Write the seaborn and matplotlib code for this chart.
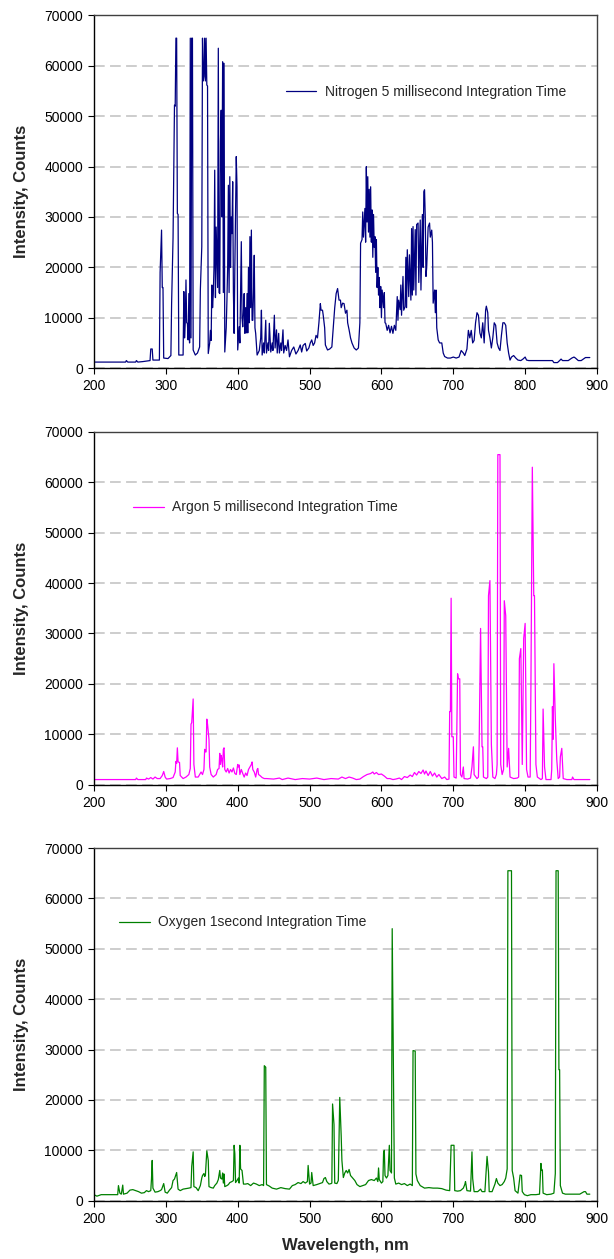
import matplotlib
matplotlib.use("Agg")
import matplotlib.pyplot as plt
import pandas as pd
import seaborn as sns

# wavelength (nm) / intensity (counts)
nitrogen_nm = [
    200, 244, 245, 247, 258, 259, 261, 268, 278, 279,
    281, 282, 291, 292, 294, 295, 296, 297, 303, 307,
    308, 310, 312, 313, 314, 315, 316, 317, 318, 324,
    325, 326, 327, 328, 329, 330, 331, 332, 333, 334,
    335, 336, 337, 338, 341, 344, 347, 348, 350, 351,
    352, 353, 354, 355, 356, 357, 358, 359, 361, 362,
    363, 364, 365, 366, 367, 368, 369, 370, 372, 373,
    374, 375, 376, 377, 378, 379, 380, 381, 382, 384,
    385, 386, 387, 388, 389, 390, 391, 392, 393, 394,
    395, 396, 398, 399, 400, 402, 403, 405, 406, 407,
    408, 409, 410, 411, 412, 413, 414, 415, 416, 417,
    418, 419, 420, 421, 422, 423, 424, 425, 427, 430,
    432, 433, 434, 436, 437, 439, 440, 442, 443, 444,
    446, 448, 449, 451, 452, 454, 455, 457, 458, 460,
    461, 463, 464, 466, 468, 470, 472, 475, 478, 481,
    484, 487, 489, 491, 494, 496, 499, 501, 503, 505,
    507, 509, 511, 513, 515, 516, 518, 519, 521, 522,
    525, 528, 531, 533, 535, 537, 539, 541, 543, 544,
    546, 548, 550, 552, 553, 555, 557, 559, 562, 565,
    568, 570, 571, 573, 574, 575, 577, 578, 579, 580,
    581, 582, 583, 584, 585, 586, 587, 588, 589, 590,
    591, 592, 593, 594, 595, 596, 597, 598, 599, 600,
    601, 603, 604, 605, 606, 608, 610, 612, 614, 616,
    618, 620, 622, 623, 624, 626, 627, 628, 630, 631,
    633, 634, 635, 636, 638, 639, 641, 642, 643, 644,
    645, 647, 648, 649, 651, 652, 654, 655, 657, 658,
    659, 660, 661, 662, 663, 665, 667, 668, 670, 671,
    672, 674, 675, 676, 677, 679, 681, 684, 686, 688,
    692, 696, 700, 704, 708, 711, 714, 716, 719, 721,
    723, 725, 727, 729, 731, 733, 735, 737, 739, 741,
    743, 745, 746, 748, 749, 751, 753, 755, 757, 759,
    761, 763, 765, 767, 769, 771, 773, 775, 777, 779,
    781, 784, 787, 790, 794, 797, 800, 802, 805, 810,
    820, 830, 838, 840, 845, 848, 850, 852, 860, 865,
    868, 870, 874, 878, 880, 884, 890,
]
nitrogen_counts = [
    1200, 1200, 1500, 1200, 1200, 1500, 1200, 1300, 1500, 3800,
    3800, 1600, 1600, 19000, 27400, 16000, 16000, 2000, 1900, 2500,
    12800, 25800, 52200, 52000, 65500, 65500, 30700, 30500, 2600, 2600,
    15200, 6000, 9000, 17500, 9000, 8900, 5600, 14800, 5000, 65500,
    6000, 65500, 65500, 3600, 2600, 3000, 4200, 15500, 24100, 65500,
    57000, 57900, 65500, 57000, 65500, 56200, 56000, 2900, 5000, 7500,
    5500, 16500, 12000, 14800, 20000, 39300, 14000, 28000, 16000, 63500,
    15000, 14800, 45000, 51200, 30000, 60800, 15000, 60500, 3200, 8000,
    13500, 20000, 36300, 15000, 38000, 20000, 30000, 26700, 37000, 15000,
    6900, 20000, 42000, 36000, 3600, 8200, 5000, 25100, 10000, 8200,
    11000, 14800, 6900, 12000, 7000, 14800, 7000, 20000, 9000, 26100,
    12000, 27400, 9500, 9500, 15000, 22400, 8000, 6900, 2600, 3500,
    6000, 11500, 2600, 5000, 3000, 9500, 3000, 5000, 3500, 8900,
    3200, 5000, 3500, 10500, 4000, 7600, 3000, 6900, 3000, 5000,
    3500, 7600, 3000, 4500, 3500, 5600, 2250, 3500, 4200, 2800,
    3500, 4600, 3200, 4500, 4900, 3400, 4000, 5000, 5600, 4500,
    5000, 6500, 6000, 9000, 12800, 11500, 11500, 10500, 8000, 4600,
    3600, 3800, 4200, 8000, 12000, 14800, 15800, 13500, 13500, 12000,
    12900, 12800, 10900, 11500, 9000, 7600, 6000, 5000, 4000, 3600,
    4000, 9000, 24800, 25500, 31000, 26000, 31700, 25000, 40000, 29000,
    38000, 27000, 35500, 26000, 36000, 25000, 31400, 22000, 30500, 24000,
    26100, 19000, 25500, 16000, 20000, 14500, 18000, 12000, 16200, 10000,
    15500, 12000, 15000, 9000, 8900, 7500, 8500, 7000, 8300, 6900,
    8500, 7500, 14200, 9500, 13500, 11600, 16500, 10500, 18200, 11500,
    12200, 22000, 12000, 23500, 14200, 22500, 13500, 27700, 14500, 28100,
    15500, 27500, 14500, 28500, 28800, 17000, 29400, 15500, 30500, 20000,
    35000, 35400, 30000, 18200, 20000, 28000, 28800, 26000, 27400, 25000,
    12900, 15500, 11000, 15500, 8000, 5600, 5000, 5000, 3000, 2300,
    2000, 2000, 2200, 2000, 2200, 3500, 3000, 2500, 3800, 7500,
    6000, 7500, 5000, 5500, 9000, 11000, 10500, 7000, 6000, 9000,
    5000, 11500, 12300, 11000, 7500, 6000, 4000, 6000, 9000, 8500,
    5000, 4000, 3500, 6500, 9000, 9000, 8500, 5000, 3000, 1600,
    2200, 2500, 2000, 1600, 1500, 1800, 2200, 1600, 1500, 1500,
    1500, 1500, 1500, 1100, 1100, 1500, 1800, 1500, 1500, 2000,
    2200, 2000, 1500, 1500, 1700, 2100, 2100,
]

argon_nm = [
    200, 258, 259, 261, 272, 273, 276, 279, 282, 285,
    288, 292, 295, 297, 299, 301, 306, 310, 313, 314,
    315, 316, 317, 319, 320, 324, 328, 332, 334, 335,
    336, 338, 339, 341, 345, 349, 351, 353, 354, 355,
    356, 357, 358, 360, 361, 363, 366, 370, 372, 374,
    375, 376, 377, 378, 379, 380, 381, 382, 384, 386,
    388, 390, 392, 394, 396, 398, 400, 401, 402, 403,
    405, 407, 409, 411, 413, 415, 417, 419, 420, 421,
    423, 425, 427, 428, 429, 431, 434, 437, 440, 450,
    458, 462, 470, 480, 490, 500, 510, 520, 530, 540,
    545, 550, 555, 560, 565, 570, 575, 580, 585, 588,
    590, 593, 596, 600, 604, 608, 612, 616, 620, 625,
    628, 632, 636, 640, 643, 646, 649, 652, 655, 658,
    660, 662, 665, 668, 671, 674, 677, 680, 684, 688,
    691, 694, 695, 696, 697, 698, 700, 701, 704, 706,
    707, 709, 710, 712, 714, 715, 720, 724, 726, 728,
    729, 733, 735, 736, 738, 740, 741, 742, 746, 748,
    749, 751, 753, 755, 758, 760, 761, 762, 765, 766,
    768, 770, 771, 773, 775, 777, 779, 784, 789, 791,
    792, 794, 796, 798, 800, 802, 804, 807, 808, 810,
    812, 813, 815, 817, 822, 824, 825, 827, 829, 836,
    837, 838, 839, 840, 842, 844, 846, 848, 849, 851,
    853, 858, 865, 866, 868, 890,
]
argon_counts = [
    1000, 1000, 1300, 1000, 1000, 1300, 1100, 1400, 1100, 1500,
    1200, 1200, 1800, 2600, 1500, 1100, 1200, 1400, 2500, 4600,
    4200, 7300, 4500, 4400, 1800, 1200, 1500, 2000, 3200, 12000,
    12300, 17000, 4000, 1500, 1500, 2500, 2000, 3000, 7000, 6500,
    6500, 13000, 12000, 9000, 3500, 2000, 1500, 2000, 3000, 3200,
    6200, 4000, 5800, 5000, 3500, 7000, 7300, 3000, 2500, 3200,
    2300, 3000, 2500, 3300, 2200, 2000, 4000, 3500, 3900, 2000,
    3000, 2200, 1500, 2300, 1800, 3000, 3500, 4000, 4500, 3000,
    2500, 1500, 3000, 3200, 2000, 1800, 1400, 1200, 1200, 1100,
    1300, 1000, 1300, 1000, 1200, 1100, 1300, 1000, 1200, 1100,
    1500, 1200, 1500, 1300, 1000, 1100, 1600, 2000, 2200, 2500,
    2100, 2400, 2000, 2100, 1700, 1200, 1200, 1000, 1100, 1300,
    1000, 1600, 1400, 1900, 1600, 2400, 1900, 2600, 2200, 2900,
    2100, 2700, 1800, 2600, 1700, 2300, 1500, 2000, 1200, 1500,
    1000, 1100, 14500, 14500, 37000, 9500, 9500, 1500, 1300, 22000,
    21000, 21000, 2000, 1500, 3500, 1200, 1100, 1300, 3500, 7500,
    2000, 1200, 1500, 8000, 31000, 7500, 7500, 1500, 1200, 1500,
    37500, 40500, 8000, 1500, 1200, 2000, 4000, 65500, 65500, 4000,
    2000, 3000, 36500, 33500, 3500, 7200, 1500, 1200, 1300, 1500,
    25000, 27000, 4000, 29000, 32000, 3000, 1500, 1500, 18500, 63000,
    37500, 37500, 4000, 1500, 1000, 1200, 15000, 3500, 1000, 1000,
    3000, 15500, 9000, 24000, 13000, 5000, 1200, 1500, 5500, 7200,
    1200, 1000, 1000, 1500, 1000, 1000,
]

oxygen_nm = [
    200, 204, 210, 233, 234, 236, 238, 240, 241, 246,
    250, 254, 258, 262, 266, 270, 273, 276, 279, 280,
    281, 282, 285, 289, 292, 294, 297, 299, 302, 305,
    308, 310, 312, 314, 315, 317, 320, 324, 328, 332,
    335, 336, 338, 339, 342, 345, 348, 350, 351, 353,
    354, 355, 357, 359, 360, 363, 366, 368, 371, 373,
    375, 376, 378, 379, 380, 381, 382, 385, 387, 389,
    392, 394, 395, 396, 397, 399, 401, 402, 403, 404,
    406, 408, 411, 414, 418, 422, 426, 430, 434, 436,
    437, 439, 440, 444, 448, 454, 460, 466, 472, 476,
    480, 484, 488, 491, 494, 497, 498, 500, 502, 503,
    505, 510, 514, 518, 520, 522, 524, 527, 530, 531,
    532, 534, 535, 538, 540, 542, 544, 545, 547, 549,
    551, 553, 555, 557, 560, 563, 566, 570, 574, 578,
    582, 586, 590, 593, 595, 596, 597, 600, 602, 603,
    604, 605, 607, 609, 610, 611, 612, 614, 615, 617,
    618, 620, 624, 628, 632, 636, 640, 643, 644, 647,
    648, 650, 654, 660, 666, 672, 678, 684, 690, 695,
    697, 701, 702, 706, 710, 714, 716, 717, 719, 724,
    726, 727, 729, 734, 738, 740, 744, 747, 749, 750,
    754, 758, 760, 762, 765, 768, 771, 773, 775, 776,
    781, 782, 784, 786, 790, 793, 795, 796, 799, 803,
    808, 815, 820, 822, 823, 824, 825, 830, 836, 840,
    842, 843, 846, 847, 848, 849, 852, 856, 866, 876,
    882, 884, 886, 890,
]
oxygen_counts = [
    1200, 900, 1200, 1200, 3000, 1500, 1300, 3100, 1300, 1500,
    2100, 2200, 2000, 1800, 1500, 1600, 2000, 1800, 2000, 4300,
    8000, 2500, 1700, 1800, 2000, 2200, 3400, 1700, 1500, 2100,
    2600, 4000, 4300, 5200, 5600, 2300, 2000, 2300, 2400, 2500,
    2600, 6800, 9700, 2800, 2600, 2000, 3000, 4500, 5000, 5400,
    4800, 5000, 9900, 8000, 2800, 2600, 2500, 3000, 3500, 4200,
    6000, 4500, 4300, 5500, 3500, 5300, 2800, 3000, 3200, 3600,
    3800, 4000, 11000, 9300, 3600, 4000, 4500, 3500, 11000, 6300,
    6000, 3300, 3300, 3400, 3000, 3500, 3300, 3000, 3200, 3000,
    26800, 26500, 3200, 2900, 2500, 2300, 2600, 2400, 2300, 3000,
    3200, 3600, 3400, 3800, 3500, 3800, 7000, 3300, 3500, 5600,
    3000, 3200, 3400, 3600, 4400, 4600, 3800, 3300, 3400, 3500,
    19200, 15100, 3500, 3400, 4000, 20500, 12900, 8000, 4600, 5500,
    6000, 5500, 6200, 5000, 4500, 4000, 3200, 2800, 3000, 3200,
    4000, 4200, 4000, 4500, 3800, 6500, 4200, 3500, 3800, 9500,
    10000, 5000, 4500, 5000, 8000, 11000, 6000, 5500, 54000, 19600,
    4500, 3300, 3500, 3200, 3400, 3000, 3300, 3000, 29800, 29700,
    5300, 4000, 3000, 2500, 2600, 2500, 2500, 2400, 2100, 2000,
    11000, 11000, 2000, 1900, 2000, 2500, 3200, 3800, 2000, 1900,
    9700, 4400, 1800, 1800, 2300, 1800, 1800, 8800, 5700, 1800,
    1800, 3300, 4400, 3500, 3000, 3200, 3800, 4500, 6300, 65500,
    65500, 6000, 4500, 2000, 1500, 5100, 5000, 1800, 1200, 1000,
    1200, 1200, 1300, 7400, 6000, 6100, 1500, 1200, 1300, 1500,
    5400, 65500, 65500, 26000, 26000, 3000, 1500, 1300, 1300, 1300,
    1800, 1800, 1300, 1300,
]

labels = [
    "Nitrogen 5 millisecond Integration Time",
    "Argon 5 millisecond Integration Time",
    "Oxygen 1second Integration Time",
]
colors = ["#000080", "#ff00ff", "#008000"]


def draw_panel(ax, nm, counts, color, label, legend_xy):
    assert len(nm) == len(counts)
    df = pd.DataFrame({"nm": nm, "counts": counts})
    sns.lineplot(data=df, x="nm", y="counts", ax=ax, color=color,
                 linewidth=0.9, label=label, estimator=None, sort=False)
    ax.set_xlim(200, 900)
    ax.set_ylim(0, 70000)
    ax.set_xticks(range(200, 901, 100))
    ax.set_yticks(range(0, 70001, 10000))
    ax.yaxis.grid(True, color="#c0c0c0", linewidth=1.1, linestyle=(0, (7, 3.5)))
    ax.xaxis.grid(False)
    ax.set_axisbelow(True)
    ax.tick_params(axis="both", direction="out", length=4, width=0.8,
                   labelsize=10, pad=4, colors="black")
    ax.tick_params(left=True, bottom=True, top=False, right=False)
    for name, sp in ax.spines.items():
        sp.set_visible(True)
        sp.set_linewidth(1.0)
        sp.set_color("black" if name in ("left", "bottom") else "#404040")
    ax.set_ylabel("Intensity, Counts", fontsize=12, fontweight="bold")
    ax.yaxis.set_label_coords(-0.13, 0.5)
    ax.set_xlabel("")
    ax.legend(loc="center left", bbox_to_anchor=legend_xy, frameon=False,
              fontsize=10, handlelength=2.2, handletextpad=0.6,
              borderpad=0, borderaxespad=0)


sns.set_style("white")
plt.rcParams["font.family"] = ["Liberation Sans", "DejaVu Sans"]

fig = plt.figure(figsize=(6.14, 12.59), dpi=100)
left, width, height = 0.1531, 0.8192, 0.2801
ax1 = fig.add_axes([left, 0.7076, width, height])
ax2 = fig.add_axes([left, 0.3768, width, height])
ax3 = fig.add_axes([left, 0.0463, width, height])

draw_panel(ax1, nitrogen_nm, nitrogen_counts, colors[0], labels[0], (0.381, 0.783))
draw_panel(ax2, argon_nm, argon_counts, colors[1], labels[1], (0.078, 0.786))
draw_panel(ax3, oxygen_nm, oxygen_counts, colors[2], labels[2], (0.050, 0.789))

ax3.set_xlabel("Wavelength, nm", fontsize=12, fontweight="bold")
ax3.xaxis.set_label_coords(0.5, -0.105)

fig.savefig("out.png", dpi=100)
